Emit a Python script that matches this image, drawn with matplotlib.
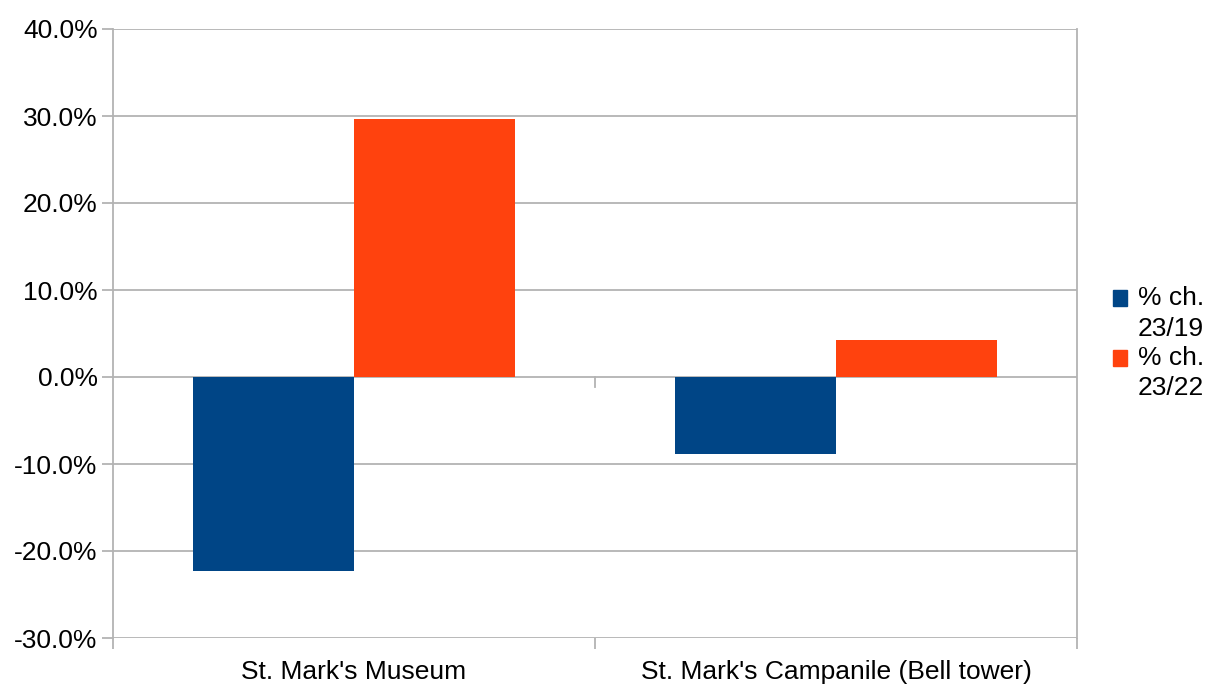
import matplotlib
matplotlib.use("Agg")
import matplotlib.pyplot as plt
import numpy as np
from matplotlib.patches import Patch

categories = ["St. Mark's Museum", "St. Mark's Campanile (Bell tower)"]
series_names = ["% ch.\n23/19", "% ch.\n23/22"]
ch_23_19 = [-22.3, -8.9]
ch_23_22 = [29.6, 4.2]
colors = ["#004586", "#ff420e"]
yticks = [-30, -20, -10, 0, 10, 20, 30, 40]

plt.rcParams['font.family'] = ['Liberation Sans', 'DejaVu Sans']
fig = plt.figure(figsize=(12.08, 6.86), dpi=100)
ax = fig.add_axes([113/1208, 1-638/686, (1077-113)/1208, (638-29)/686])

x = np.arange(len(categories))
w = 1/3
ax.bar(x - w/2, ch_23_19, width=w, color=colors[0], zorder=3)
ax.bar(x + w/2, ch_23_22, width=w, color=colors[1], zorder=3)

ax.set_xlim(-0.5, len(categories) - 0.5)
ax.set_ylim(-30, 40)
ax.set_yticks(yticks)
ax.set_yticklabels([f"{v:.1f}%" for v in yticks])
ax.yaxis.grid(True, color="#b3b3b3", linewidth=1.3, zorder=0)
grey = "#b3b3b3"
for s in ["top", "bottom"]:
    ax.spines[s].set_visible(False)
for s in ["left", "right"]:
    ax.spines[s].set_color(grey)
    ax.spines[s].set_linewidth(1.3)

fs = 19
ax.tick_params(axis="y", length=8, color=grey, width=1.3, labelsize=fs, pad=3)
# category boundary ticks at bottom
ax.set_xticks(np.arange(-0.5, len(categories)), minor=False)
ax.set_xticklabels([])
ax.tick_params(axis="x", length=8, color=grey, width=1.3, direction="out")
ax.set_xticks(x, minor=True)
ax.set_xticklabels(categories, minor=True)
ax.tick_params(axis="x", which="minor", length=0, labelsize=fs, pad=16)
# zero-axis tick at inner boundary
for b in np.arange(0.5, len(categories) - 0.5):
    ax.plot([b, b], [0, -1.1], color=grey, linewidth=1.3, zorder=2, clip_on=False)

handles = [Patch(color=c) for c in colors]
leg = ax.legend(handles, series_names, loc="center left", bbox_to_anchor=(1.026, 0.484),
                borderaxespad=0, frameon=False, fontsize=fs, handlelength=0.55,
                handleheight=0.55, handletextpad=0.4, labelspacing=0.2)
for t in leg.get_texts():
    t.set_linespacing(1.33)
for h in leg.legend_handles:
    h.set_y(h.get_y() + 11)

fig.savefig("out.png", dpi=100)
